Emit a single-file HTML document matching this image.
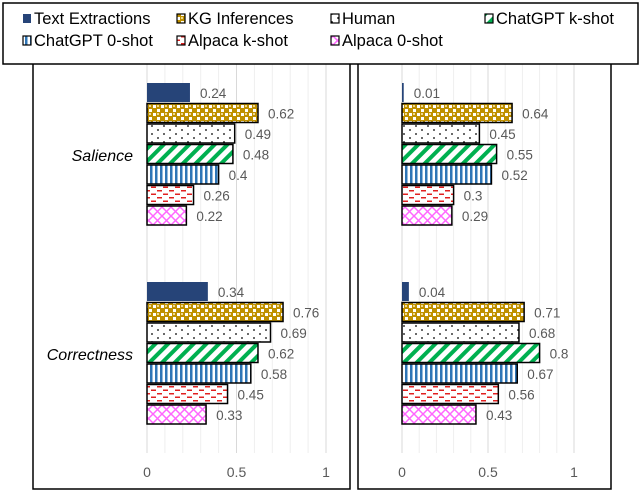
<!DOCTYPE html>
<html><head><meta charset="utf-8"><style>
body{margin:0;background:#fff;width:640px;height:491px;overflow:hidden}
svg text{font-family:"Liberation Sans",sans-serif}
</style></head><body>
<svg id="c" width="640" height="491" viewBox="0 0 640 491">
<defs>
<pattern id="p1" width="8" height="8" patternUnits="userSpaceOnUse"><rect width="8" height="8" fill="#bf9000"/><rect x="1" y="1" width="3" height="3" fill="#fff"/><rect x="5" y="5" width="3" height="3" fill="#fff"/><rect x="5" y="1" width="2" height="2" fill="#f2d98c"/></pattern>
<pattern id="p2" width="12" height="8" patternUnits="userSpaceOnUse"><rect width="12" height="8" fill="#fff"/><circle cx="2" cy="2" r="0.9" fill="#000"/><circle cx="8" cy="6" r="0.9" fill="#000"/></pattern>
<pattern id="p3" width="9" height="9" patternUnits="userSpaceOnUse" patternTransform="rotate(45)"><rect width="9" height="9" fill="#fff"/><rect width="4" height="9" fill="#00b050"/></pattern>
<pattern id="p4" width="5" height="5" patternUnits="userSpaceOnUse"><rect width="5" height="5" fill="#fff"/><rect width="2.5" height="5" fill="#2e75b6"/></pattern>
<pattern id="p5" width="12" height="7" patternUnits="userSpaceOnUse"><rect width="12" height="7" fill="#fff"/><rect x="1" y="1" width="5" height="1.5" fill="#e02020"/><rect x="7" y="4.5" width="5" height="1.5" fill="#e02020"/></pattern>
<pattern id="p6" width="9" height="9" patternUnits="userSpaceOnUse"><rect width="9" height="9" fill="#fff"/><path d="M0 0L9 9M9 0L0 9" stroke="#ff66ff" stroke-width="1.5"/></pattern>
</defs>
</svg>
<script>
const series=["Text Extractions","KG Inferences","Human","ChatGPT k-shot","ChatGPT 0-shot","Alpaca k-shot","Alpaca 0-shot"];
const categories=["Salience","Correctness"];
const leftSalience=[0.24,0.62,0.49,0.48,0.4,0.26,0.22];
const leftCorrectness=[0.34,0.76,0.69,0.62,0.58,0.45,0.33];
const rightSalience=[0.01,0.64,0.45,0.55,0.52,0.3,0.29];
const rightCorrectness=[0.04,0.71,0.68,0.8,0.67,0.56,0.43];
const tickLabels=["0","0.5","1"];
const tickValues=[0,0.5,1];
const fills=["#264478","url(#p1)","url(#p2)","url(#p3)","url(#p4)","url(#p5)","url(#p6)"];
const svg=document.getElementById('c');
const NS="http://www.w3.org/2000/svg";
function mk(t,a,p){const e=document.createElementNS(NS,t);for(const k in a)e.setAttribute(k,a[k]);(p||svg).appendChild(e);return e;}
const panels=[{x0:147,s:179,bx:33,bw:317,data:[leftSalience,leftCorrectness],n:'left'},{x0:402,s:172,bx:358,bw:253,data:[rightSalience,rightCorrectness],n:'right'}];
const groupTop=[83,282];
panels.forEach(P=>{
  const g=mk('g',{});
  
  
  for(let i=0;i<=10;i++){const x=P.x0+i/10*P.s;const l=mk('line',{x1:x,x2:x,y1:64,y2:453,stroke:i%5==0?'#d9d9d9':'#eeeeee','stroke-width':1},g);
    }
  tickValues.forEach((v,i)=>{const t=mk('text',{x:P.x0+v*P.s,y:477,'text-anchor':'middle','font-size':14,fill:'#595959'},g);t.textContent=tickLabels[i];
    });
  P.data.forEach((arr,gi)=>{arr.forEach((v,i)=>{
    const y=groupTop[gi]+i*20.5;const w=v*P.s;
    const r=mk('rect',{x:P.x0,y:y,width:w,height:19,fill:fills[i],stroke:i==0?'none':'#000','stroke-width':1.5},g);
    
    const t=mk('text',{x:P.x0+w+10,y:y+15,'font-size':13.5,fill:'#595959'},g);t.textContent=String(v);
    
  });});
  const b=mk('rect',{x:P.bx,y:30,width:P.bw,height:459,fill:'none',stroke:'#000','stroke-width':1.5},g);
  
});
categories.forEach((c,i)=>{const t=mk('text',{x:133,y:[161,360][i],'text-anchor':'end','font-size':16,'font-style':'italic',fill:'#000'});t.textContent=c;
  });
const lg=mk('g',{});


mk('rect',{x:3,y:3,width:635,height:61,fill:'#fff',stroke:'#000','stroke-width':1.5},lg);
const lx=[22,176,330,484];
series.forEach((s,i)=>{const x=lx[i%4],y=i<4?18:40;
  const e=mk('g',{},lg);
  mk('rect',{x:x+1,y:y-4,width:8,height:9,fill:fills[i],stroke:i==0?'none':'#000','stroke-width':1.2},e);
  const t=mk('text',{x:x+12,y:y+6,'font-size':16.5,fill:'#000'},e);t.textContent=s;});
</script>
</body></html>
